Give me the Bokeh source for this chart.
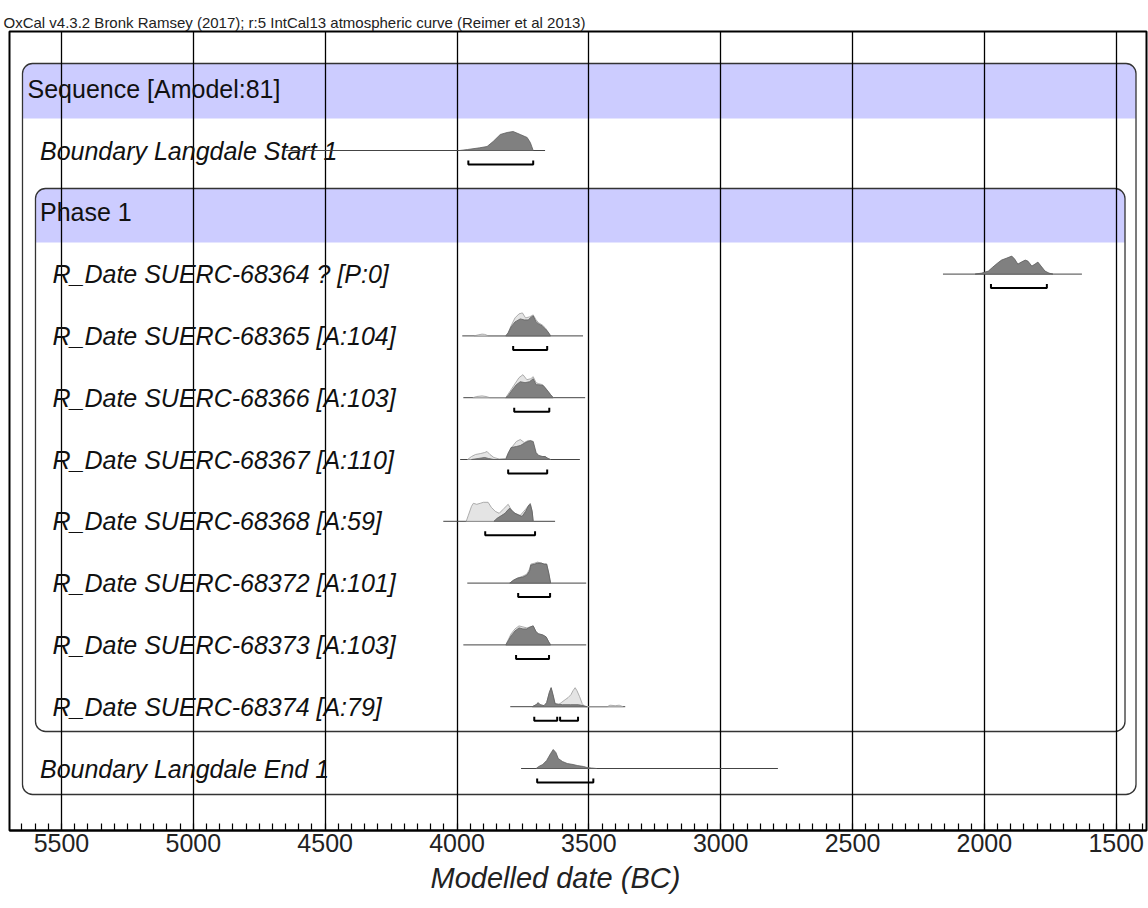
from bokeh.plotting import figure
from bokeh.models import Range1d, BoxAnnotation, SingleIntervalTicker, Title
from bokeh.embed import file_html
from bokeh.resources import INLINE
from bokeh.core.properties import value

# ---------------- data ----------------
title_text = "OxCal v4.3.2 Bronk Ramsey (2017); r:5 IntCal13 atmospheric curve (Reimer et al 2013)"
axis_title = "Modelled date (BC)"

labels = [
    "Sequence [Amodel:81]",
    "Boundary Langdale Start 1",
    "Phase 1",
    "R_Date SUERC-68364 ? [P:0]",
    "R_Date SUERC-68365 [A:104]",
    "R_Date SUERC-68366 [A:103]",
    "R_Date SUERC-68367 [A:110]",
    "R_Date SUERC-68368 [A:59]",
    "R_Date SUERC-68372 [A:101]",
    "R_Date SUERC-68373 [A:103]",
    "R_Date SUERC-68374 [A:79]",
    "Boundary Langdale End 1",
]
kinds = ["group", "item", "group", "item", "item", "item", "item", "item", "item", "item", "item", "item"]
depth = [0, 1, 1, 2, 2, 2, 2, 2, 2, 2, 2, 1]

# range of the plotted distribution (BC), per row (None for group headers)
span_from = [None, 4650, None, 2157, 3980, 3976, 3988, 4052, 3961, 3976, 3798, 3757]
span_to   = [None, 3666, None, 1630, 3522, 3514, 3534, 3628, 3510, 3510, 3362, 2783]

# unmodelled likelihoods (light) : (year BC, relative probability)
like_start = []
like_68364 = []
like_68365 = [(3935, 0), (3920, 1), (3905, 1.8), (3895, 1.5), (3880, 0),
              (3815, 0), (3806, 3), (3795, 10), (3780, 18), (3765, 22), (3752, 23), (3740, 18),
              (3725, 19), (3711, 21), (3700, 16), (3690, 13), (3677, 11), (3665, 8), (3655, 4), (3645, 0)]
like_68366 = [(3940, 0), (3925, 1.2), (3905, 1.8), (3890, 1.2), (3875, 0),
              (3815, 0), (3800, 6), (3785, 12), (3765, 20), (3750, 23), (3735, 18), (3720, 19),
              (3711, 21), (3700, 15), (3690, 14), (3675, 13), (3662, 9), (3645, 3), (3635, 0)]
like_68367 = [(3960, 0), (3945, 3), (3930, 5), (3910, 6), (3895, 7), (3886, 8), (3875, 5), (3860, 2),
              (3840, 0.5), (3815, 1), (3805, 7), (3790, 13), (3775, 18), (3760, 20), (3745, 17),
              (3730, 19), (3715, 17), (3705, 8), (3695, 4), (3680, 3), (3666, 3), (3655, 1), (3645, 0)]
like_68368 = [(3965, 0), (3957, 6), (3945, 15), (3938, 18), (3925, 17), (3912, 18), (3900, 19),
              (3882, 19), (3870, 14), (3855, 10), (3840, 8), (3825, 12), (3806, 17), (3795, 12),
              (3780, 8), (3760, 6), (3740, 12), (3722, 18), (3715, 10), (3711, 0)]
like_68372 = [(3800, 0), (3785, 3), (3770, 5), (3750, 7), (3735, 9), (3725, 14), (3720, 19),
              (3705, 20), (3695, 21), (3680, 20), (3670, 19), (3660, 19), (3652, 10), (3645, 0)]
like_68373 = [(3815, 0), (3806, 5), (3795, 11), (3780, 16), (3765, 19), (3750, 18), (3735, 17),
              (3722, 18), (3711, 19), (3700, 13), (3690, 11), (3675, 10), (3662, 8), (3652, 3), (3645, 0)]
like_68374 = [(3715, 0), (3700, 2), (3692, 4), (3685, 2), (3670, 1), (3660, 4), (3650, 14), (3643, 19),
              (3636, 12), (3628, 3), (3615, 2), (3605, 4), (3590, 7), (3579, 9), (3568, 12), (3560, 16),
              (3552, 19), (3545, 16), (3535, 10), (3525, 3), (3515, 0), (3430, 0), (3420, 1.5),
              (3400, 1), (3385, 1.5), (3370, 0)]
like_end = []

# modelled posteriors (dark)
post_start = [(3990, 0), (3960, 1), (3914, 2.7), (3886, 4), (3863, 9), (3836, 16), (3810, 18),
              (3787, 19), (3760, 16), (3734, 13), (3722, 8), (3711, 0)]
post_68364 = [(2035, 0), (2010, 1), (1985, 3), (1968, 7), (1950, 11), (1935, 14), (1915, 16),
              (1896, 18), (1885, 15), (1873, 10), (1860, 12), (1845, 14), (1835, 13), (1820, 8),
              (1808, 10), (1797, 12), (1785, 8), (1770, 3), (1755, 1), (1740, 0)]
post_68365 = [(3815, 0), (3806, 3), (3795, 9), (3780, 14), (3760, 17), (3745, 16), (3730, 16),
              (3718, 19), (3711, 20), (3700, 14), (3690, 12), (3677, 10), (3665, 7), (3655, 4), (3645, 0)]
post_68366 = [(3815, 0), (3806, 2), (3790, 8), (3775, 13), (3760, 16), (3742, 15), (3725, 16),
              (3711, 19), (3700, 13), (3690, 13), (3673, 12), (3660, 8), (3645, 3), (3635, 0)]
post_68367 = [(3945, 0), (3920, 1), (3895, 2), (3880, 1), (3860, 0),
              (3815, 0), (3806, 6), (3795, 12), (3775, 13), (3760, 14), (3740, 17), (3722, 19),
              (3711, 18), (3700, 7), (3690, 4), (3675, 3), (3666, 3), (3655, 1), (3645, 0)]
post_68368 = [(3860, 0), (3848, 3), (3830, 6), (3818, 8), (3805, 12), (3799, 13), (3790, 10),
              (3780, 8), (3765, 6), (3753, 5), (3740, 10), (3728, 16), (3722, 17), (3715, 10), (3711, 0)]
post_68372 = [(3800, 0), (3785, 3), (3770, 5), (3750, 6), (3735, 8), (3725, 12), (3720, 18),
              (3705, 19), (3695, 20), (3680, 20), (3670, 19), (3660, 19), (3652, 10), (3645, 0)]
post_68373 = [(3815, 0), (3806, 4), (3795, 9), (3780, 14), (3765, 17), (3750, 16), (3735, 16),
              (3722, 18), (3711, 19), (3700, 13), (3690, 11), (3675, 10), (3662, 8), (3652, 3), (3645, 0)]
post_68374 = [(3715, 0), (3700, 2), (3692, 4), (3685, 2), (3670, 1), (3660, 4), (3650, 14), (3643, 19),
              (3636, 12), (3628, 3), (3600, 2), (3570, 2), (3540, 2), (3520, 1), (3507, 0)]
post_end = [(3700, 0), (3690, 2), (3675, 4), (3660, 8), (3645, 15), (3635, 19), (3625, 16),
            (3616, 10), (3600, 7), (3582, 5), (3560, 4), (3544, 3), (3520, 2), (3507, 1), (3490, 0.5), (3470, 0)]

likelihoods = [None, like_start, None, like_68364, like_68365, like_68366, like_68367, like_68368,
               like_68372, like_68373, like_68374, like_end]
posteriors = [None, post_start, None, post_68364, post_68365, post_68366, post_68367, post_68368,
              post_68372, post_68373, post_68374, post_end]

# 95.4% highest posterior density ranges (BC)
hpd_ranges = [None, [(3957, 3711)], None, [(1975, 1763)], [(3787, 3658)], [(3783, 3650)],
              [(3806, 3658)], [(3893, 3704)], [(3768, 3647)], [(3776, 3651)],
              [(3707, 3620), (3609, 3541)], [(3696, 3483)]]

# ---------------- layout helpers (pixel geometry of the page) ----------------
PX_PER_500 = 131.9
ROW_PX = 61.8
ROW0_PX = 88.2


def xpx(px):
    return 5500 - (px - 61) * 500.0 / PX_PER_500


def ypx(py):
    return -(py - ROW0_PX) / ROW_PX


H = 1.0 / ROW_PX          # probability unit -> row unit
BRACKET = 14 * H
CAP = 4 * H

p = figure(width=1148, height=908, output_backend="svg", toolbar_location=None,
           x_range=Range1d(xpx(9), xpx(1146.5)), y_range=Range1d(ypx(830), ypx(31)),
           y_axis_location=None, min_border_left=9, min_border_right=2,
           min_border_top=31, min_border_bottom=78, background_fill_color="white")

p.title.text = title_text
p.title.text_font = "Liberation Sans"
p.title.text_font_size = "15px"
p.title.text_font_style = "normal"
p.title.text_color = "#222222"
p.title.offset = -6
p.title.standoff = 1

p.outline_line_color = "black"
p.outline_line_width = 2

ax = p.xaxis[0]
ax.ticker = SingleIntervalTicker(interval=500, num_minor_ticks=10)
ax.axis_line_width = 2
ax.axis_line_color = "black"
ax.major_tick_out = 0
ax.major_tick_in = 0
ax.minor_tick_in = 7
ax.minor_tick_out = 0
ax.minor_tick_line_color = "black"
ax.minor_tick_line_width = 1.2
ax.major_label_text_font = "Liberation Sans"
ax.major_label_text_font_size = "25px"
ax.major_label_text_color = "#222222"
ax.major_label_standoff = 3

p.xgrid.grid_line_color = "black"
p.xgrid.grid_line_width = 1.3
p.ygrid.visible = False

# axis title (slightly left of centre, as in the original)
p.add_layout(Title(text=axis_title, align="left", offset=421, text_font="Liberation Sans",
                   text_font_size="29px", text_font_style="italic", text_color="#222222",
                   standoff=10), "below")

# ---------------- group boxes ----------------
LAV = "#CCCCFF"
boxes = [  # (left px, right px, top px, header bottom px, bottom px)
    (22, 1136, 63, 118, 794),
    (35, 1125, 188, 242, 731),
]
for (l, r, t, hb, b) in boxes:
    p.add_layout(BoxAnnotation(left=xpx(l), right=xpx(r), top=ypx(t), bottom=ypx(hb),
                               fill_color=LAV, fill_alpha=1, line_alpha=0,
                               border_radius=(10, 10, 0, 0), level="image"))
    p.add_layout(BoxAnnotation(left=xpx(l), right=xpx(r), top=ypx(t), bottom=ypx(b),
                               fill_alpha=0, line_color="#333333", line_alpha=1, line_width=1.3,
                               border_radius=10, level="image"))

# ---------------- labels ----------------
indent_px = [27, 39.5, 52]
for i, lab in enumerate(labels):
    style = "normal" if kinds[i] == "group" else "italic"
    p.text(x=[xpx(indent_px[depth[i]])], y=[-i], text=[lab], text_font=value("Liberation Sans"),
           text_font_size="25px", text_font_style=style, text_color="#111111",
           text_baseline="middle", text_align="left")

# ---------------- distributions ----------------
for i in range(len(labels)):
    if kinds[i] != "item":
        continue
    base = -i
    p.segment(x0=[span_from[i]], x1=[span_to[i]], y0=[base], y1=[base],
              line_color="#444444", line_width=1)
    like = likelihoods[i]
    if like:
        p.patch([d[0] for d in like], [base + d[1] * H for d in like],
                fill_color="#E4E4E4", line_color="#9A9A9A", line_width=0.8)
    post = posteriors[i]
    if post:
        p.patch([d[0] for d in post], [base + d[1] * H for d in post],
                fill_color="#808080", line_color="#5E5E5E", line_width=0.8)
    for (a, b) in hpd_ranges[i]:
        yb = base - BRACKET
        p.line([a, a, b, b], [yb + CAP, yb, yb, yb + CAP], line_color="black", line_width=2)

open("out.html", "w").write(file_html(p, INLINE))
